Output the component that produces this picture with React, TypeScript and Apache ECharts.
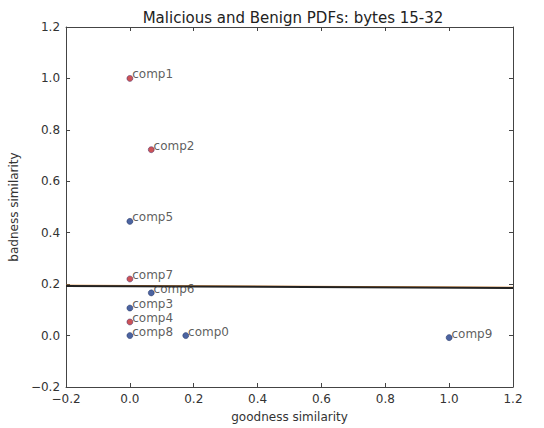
import React, { useEffect, useRef } from "react";
import * as echarts from "echarts";

const maliciousNames = ["comp1", "comp2", "comp7", "comp4"];
const maliciousX = [0.0, 0.067, 0.0, 0.0];
const maliciousY = [1.0, 0.723, 0.22, 0.053];

const benignNames = ["comp5", "comp6", "comp3", "comp8", "comp0", "comp9"];
const benignX = [0.0, 0.067, 0.0, 0.0, 0.175, 1.0];
const benignY = [0.444, 0.166, 0.107, 0.0, 0.0, -0.008];

const thresholdX = [-0.2, 1.2];
const thresholdY = [0.193, 0.185];
const thresholdY2 = [0.196, 0.188];

const xTicks = [-0.2, 0.0, 0.2, 0.4, 0.6, 0.8, 1.0, 1.2];
const yTicks = [-0.2, 0.0, 0.2, 0.4, 0.6, 0.8, 1.0, 1.2];

const FONT = "DejaVu Sans";

export default function App() {
  const ref = useRef<HTMLDivElement>(null);
  useEffect(() => {
    if (!ref.current) return;
    const chart = echarts.init(ref.current, null, { renderer: "svg" });
    const mk = (names: string[], xs: number[], ys: number[]) =>
      names.map((n, i) => ({ name: n, value: [xs[i], ys[i]] }));
    const label = {
      show: true,
      position: "right" as const,
      distance: -1,
      offset: [0, -4],
      formatter: "{b}",
      fontFamily: FONT,
      fontSize: 12,
      color: "#333",
    };
    const fmt = (v: number) => (v < 0 ? "\u2212" + Math.abs(v).toFixed(1) : v.toFixed(1));
    const axisBase = {
      type: "value" as const,
      min: -0.2,
      max: 1.2,
      interval: 0.2,
      splitLine: { show: false },
      axisLine: { show: true, onZero: false, lineStyle: { color: "#444", width: 1 } },
      axisTick: { show: true, inside: true, length: 4, lineStyle: { color: "#444" } },
    };
    chart.setOption({
      animation: false,
      backgroundColor: "#fff",
      title: {
        text: "Malicious and Benign PDFs: bytes 15-32",
        left: 288,
        textAlign: "center",
        top: 5,
        textStyle: { fontFamily: FONT, fontSize: 15, fontWeight: "normal", color: "#222" },
      },
      grid: { left: 62, right: 31, top: 27, bottom: 40 },
      xAxis: [
        {
          ...axisBase,
          position: "bottom",
          name: "goodness similarity",
          nameLocation: "middle",
          nameGap: 24,
          nameTextStyle: { fontFamily: FONT, fontSize: 12, color: "#333" },
          axisLabel: { fontFamily: FONT, fontSize: 12, color: "#333", margin: 6, formatter: fmt },
        },
        { ...axisBase, position: "top", axisLabel: { show: false } },
      ],
      yAxis: [
        {
          ...axisBase,
          position: "left",
          name: "badness similarity",
          nameLocation: "middle",
          nameGap: 40,
          nameTextStyle: { fontFamily: FONT, fontSize: 12, color: "#333" },
          axisLabel: { fontFamily: FONT, fontSize: 12, color: "#333", margin: 6, formatter: fmt },
        },
        { ...axisBase, position: "right", axisLabel: { show: false } },
      ],
      series: [
        {
          type: "line",
          data: thresholdX.map((x, i) => [x, thresholdY2[i]]),
          symbol: "none",
          lineStyle: { color: "#d9822b", width: 1 },
          z: 1,
        },
        {
          type: "line",
          data: thresholdX.map((x, i) => [x, thresholdY[i]]),
          symbol: "none",
          lineStyle: { color: "#222", width: 2 },
          z: 2,
        },
        {
          type: "scatter",
          data: mk(maliciousNames, maliciousX, maliciousY),
          symbolSize: 6,
          itemStyle: { color: "#c0282d", borderColor: "#3a2a6a", borderWidth: 0.6 },
          label,
          z: 3,
        },
        {
          type: "scatter",
          data: mk(benignNames, benignX, benignY),
          symbolSize: 6,
          itemStyle: { color: "#1f3d8a", borderColor: "#1a2a5a", borderWidth: 0.6 },
          label,
          z: 3,
        },
      ],
    });
    return () => chart.dispose();
  }, []);
  return <div ref={ref} style={{ width: 544, height: 428, position: "absolute", left: 0, top: 0 }} />;
}
